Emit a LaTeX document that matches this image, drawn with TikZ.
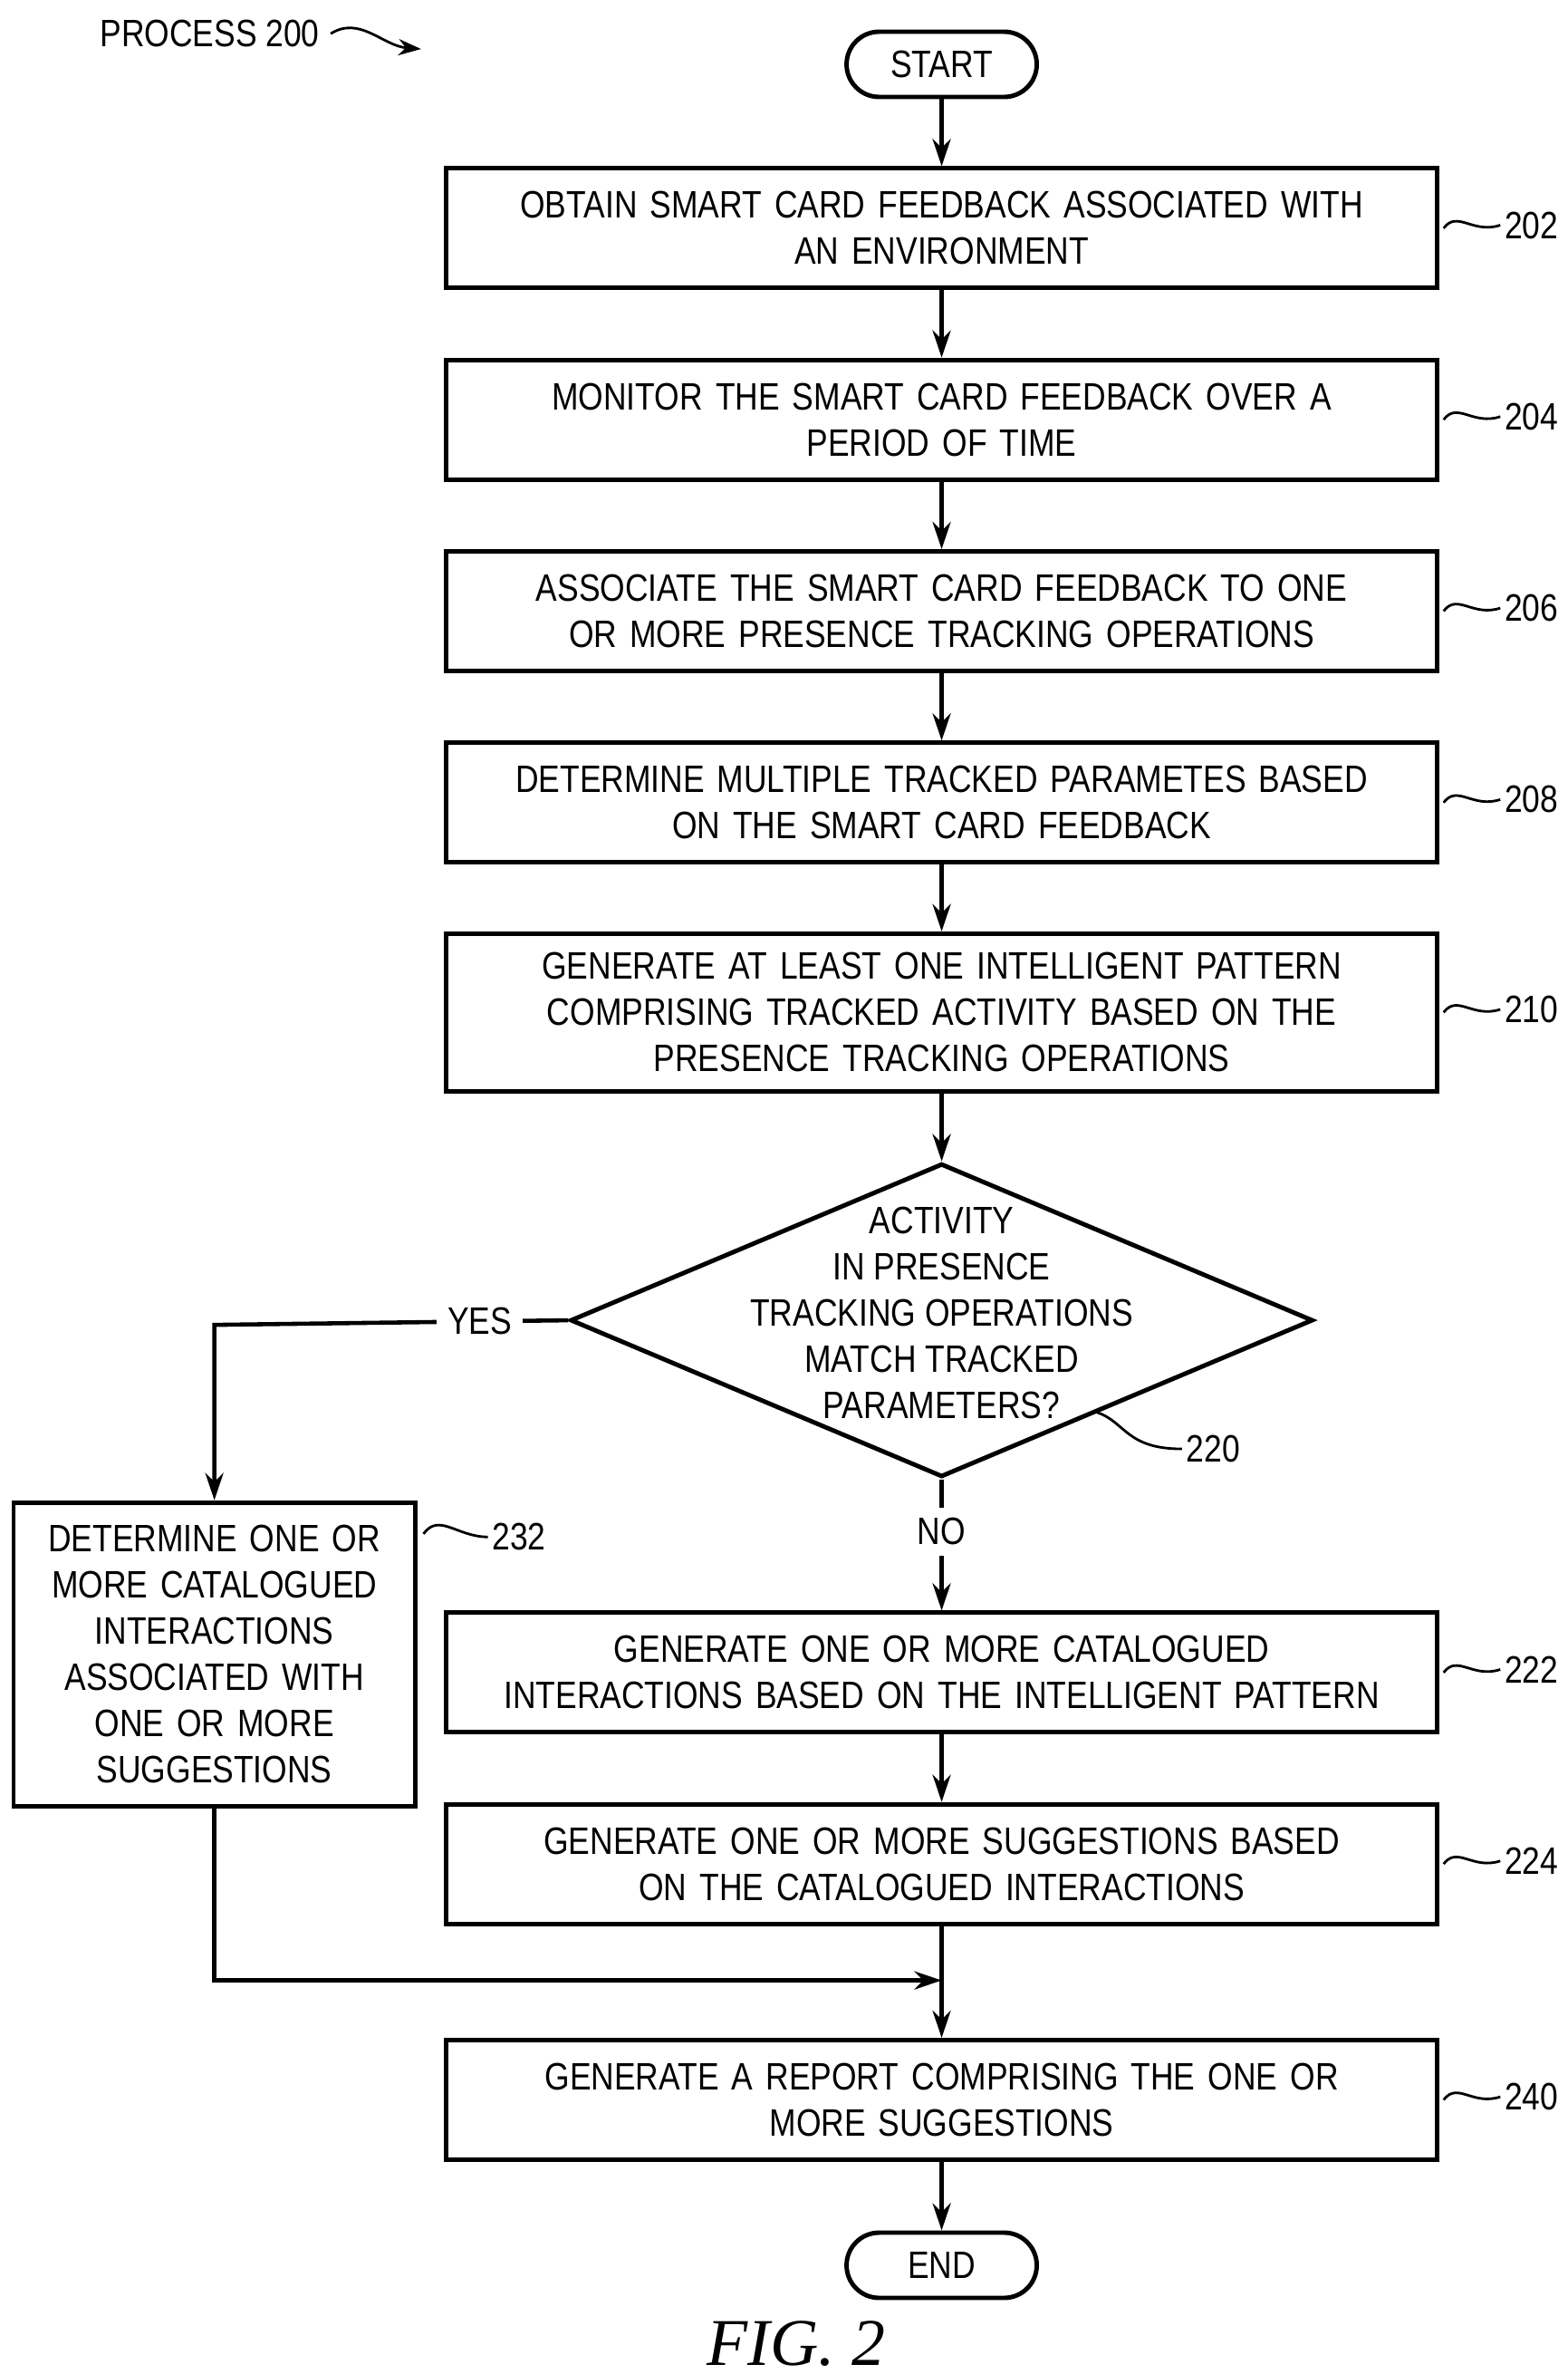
\documentclass[tikz,border=0pt]{standalone}
\usepackage{fontspec}
\setmainfont{Liberation Sans}[FakeStretch=0.84]
\newfontfamily\figfont{Liberation Serif}
\usetikzlibrary{shapes.geometric,arrows.meta,positioning}
\tikzset{
  procbox/.style={draw, line width=1.4pt, minimum width=10.9cm, minimum height=1.32cm, align=center, text width=10.7cm, font=\fontsize{12}{14.5}\selectfont},
  term/.style={draw, line width=1.4pt, rounded corners=0.36cm, minimum width=2.1cm, minimum height=0.72cm, font=\fontsize{12}{14.5}\selectfont},
  flow/.style={line width=1.3pt, -{Stealth[length=3mm,width=2mm]}},
  tag/.style={line width=0.8pt},
  lbl/.style={font=\fontsize{12}{14.5}\selectfont}
}
\begin{document}
\begin{tikzpicture}[x=0.0169cm, y=-0.0169cm]
  \useasboundingbox (0,0) rectangle (1024,1550);
  %%%%%%%%%% Nodi %%%%%%%%%%
  \node[term] (start) at (615,42) {START};
  \node[procbox] (s202) at (615,149) {OBTAIN SMART CARD FEEDBACK ASSOCIATED WITH\\AN ENVIRONMENT};
  \node[procbox] (s204) at (615,274) {MONITOR THE SMART CARD FEEDBACK OVER A\\PERIOD OF TIME};
  \node[procbox] (s206) at (615,399) {ASSOCIATE THE SMART CARD FEEDBACK TO ONE\\OR MORE PRESENCE TRACKING OPERATIONS};
  \node[procbox] (s208) at (615,524) {DETERMINE MULTIPLE TRACKED PARAMETES BASED\\ON THE SMART CARD FEEDBACK};
  \node[procbox, minimum height=1.74cm] (s210) at (615,661) {GENERATE AT LEAST ONE INTELLIGENT PATTERN\\COMPRISING TRACKED ACTIVITY BASED ON THE\\PRESENCE TRACKING OPERATIONS};
  \node[diamond, draw, line width=1.4pt, minimum width=8.2cm, minimum height=3.46cm, inner sep=0pt, align=center, lbl] (d220) at (615,862) {};
  \node[lbl, align=center] at (615,857) {ACTIVITY\\IN PRESENCE\\TRACKING OPERATIONS\\MATCH TRACKED\\PARAMETERS?};
  \node[procbox, minimum width=4.31cm, text width=4.2cm, minimum height=3.35cm] (s232) at (140,1080) {DETERMINE ONE OR\\MORE CATALOGUED\\INTERACTIONS\\ASSOCIATED WITH\\ONE OR MORE\\SUGGESTIONS};
  \node[procbox] (s222) at (615,1092) {GENERATE ONE OR MORE CATALOGUED\\INTERACTIONS BASED ON THE INTELLIGENT PATTERN};
  \node[procbox] (s224) at (615,1217) {GENERATE ONE OR MORE SUGGESTIONS BASED\\ON THE CATALOGUED INTERACTIONS};
  \node[procbox] (s240) at (615,1371) {GENERATE A REPORT COMPRISING THE ONE OR\\MORE SUGGESTIONS};
  \node[term] (end) at (615,1479) {END};
  \coordinate (join) at (615,1293);
  \coordinate (corner) at (140,865);
  \node[lbl] (title) at (137,22) {PROCESS 200};
  \node[font=\figfont\itshape\fontsize{21}{24}\selectfont] (fig) at (520,1530) {FIG. 2};

  %%%%%%%%% Archi %%%%%%%%%%
  \draw[flow] (start) -- (s202);
  \draw[flow] (s202) -- (s204);
  \draw[flow] (s204) -- (s206);
  \draw[flow] (s206) -- (s208);
  \draw[flow] (s208) -- (s210);
  \draw[flow] (s210) -- (d220);
  \draw[flow] (d220.south) -- node[fill=white, lbl, pos=0.4] {NO} (s222);
  \draw[flow] (s222) -- (s224);
  \draw[flow] (s224) -- (s240);
  \draw[flow] (s240) -- (end);
  \draw[flow] (d220.west) -- node[fill=white, lbl, pos=0.25] {YES} (corner) -- (s232);
  \draw[flow] (s232) |- (join);

  %%%%%%%%% Riferimenti %%%%%%%%%%
  \foreach \n/\t in {s202/202, s204/204, s206/206, s208/208, s210/210, s222/222, s224/224, s240/240}
    \draw[tag, shift={(\n.east)}] (3,0) .. controls (12,-12) and (22,4) .. (40,-2) node[right, lbl, inner sep=1pt] {\t};
  \draw[tag, shift={(s232.north east)}] (4,22) .. controls (14,8) and (26,24) .. (46,24) node[right, lbl, inner sep=1pt] {232};
  \draw[tag] (716,922) .. controls (735,928) and (735,946) .. (772,946) node[right, lbl, inner sep=1pt] {220};
  \draw[tag, -{Stealth[length=2.5mm,width=1.8mm]}] (title.east) .. controls (235,10) and (250,30) .. (275,32);
\end{tikzpicture}
\end{document}
